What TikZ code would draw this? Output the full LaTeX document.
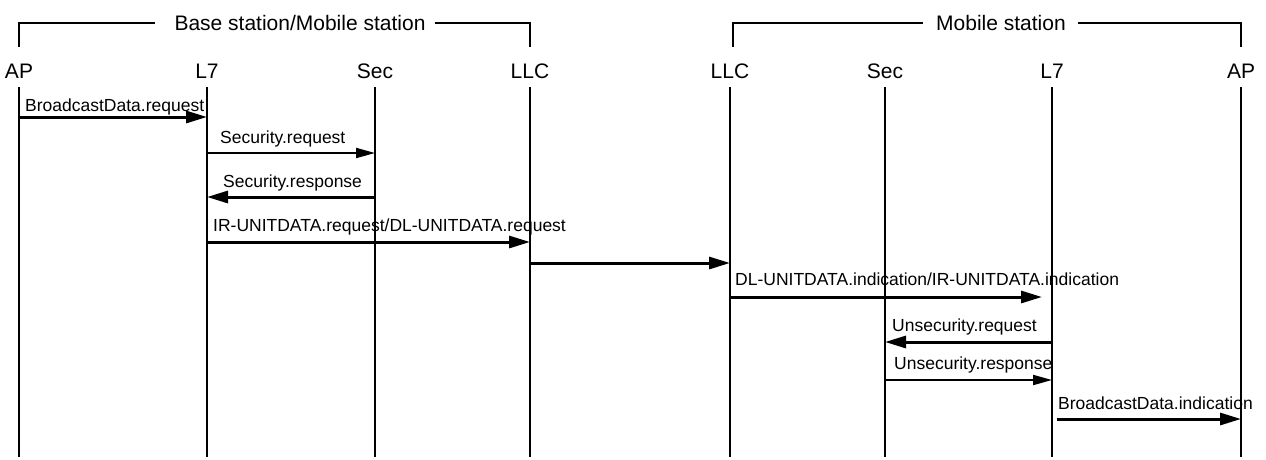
\documentclass[tikz,border=0pt]{standalone}
\usepackage{fontspec}
\setmainfont{Liberation Sans}
\usetikzlibrary{arrows.meta}
\tikzset{
	layer/.style={inner sep=0pt,anchor=base,font=\fontsize{21}{25}\selectfont},
	msglbl/.style={inner sep=0pt,anchor=base west,font=\fontsize{17.5}{21}\selectfont},
	lifeline/.style={line width=1.2pt},
	bracket/.style={line width=1.2pt},
	msg/.style={line width=3pt,-{Triangle[length=21pt,width=12pt]}},
	thinmsg/.style={line width=2pt,-{Triangle[length=19pt,width=10pt]}},
}
\begin{document}
\begin{tikzpicture}[x=1pt,y=-1pt]
	\useasboundingbox (0,0) rectangle (1266,459);
	% layers of both stations
	\node[layer] (apA) at (19,78.5) {AP};
	\node[layer] (lsA) at (207,78.5) {L7};
	\node[layer] (secA) at (375,78.5) {Sec};
	\node[layer] (llcA) at (530,78.5) {LLC};
	\node[layer] (llcB) at (730,78.5) {LLC};
	\node[layer] (secB) at (885,78.5) {Sec};
	\node[layer] (lsB) at (1052,78.5) {L7};
	\node[layer] (apB) at (1241,78.5) {AP};
	\foreach \n in {apA,lsA,secA,llcA,llcB,secB,lsB,apB}
		\draw[lifeline] (\n |- 0,87) -- (\n |- 0,457);
	% brackets
	\node[layer] (hdrA) at (300,30) {Base station/Mobile station};
	\node[layer] (hdrB) at (1001,30) {Mobile station};
	\draw[bracket] (apA |- 0,47) |- ([xshift=-19pt]hdrA.west |- 0,23);
	\draw[bracket] ([xshift=9pt]hdrA.east |- 0,23) -| (llcA |- 0,47);
	\draw[bracket] ([xshift=3pt]llcB |- 0,47) |- ([xshift=-13pt]hdrB.west |- 0,23);
	\draw[bracket] ([xshift=12pt]hdrB.east |- 0,23) -| (apB |- 0,47);
	% messages
	\draw[msg] (apA |- 0,117) -- (lsA |- 0,117);
	\node[msglbl] (m1) at (25,111) {BroadcastData.request};
	\draw[thinmsg] (lsA |- 0,153) -- (secA |- 0,153);
	\node[msglbl] (m2) at (220,143) {Security.request};
	\draw[msg] (secA |- 0,197) -- (lsA |- 0,197);
	\node[msglbl] (m3) at (223,187) {Security.response};
	\draw[msg] (lsA |- 0,242) -- (llcA |- 0,242);
	\node[msglbl] (m4) at (213,231) {IR-UNITDATA.request/DL-UNITDATA.request};
	\draw[msg] (llcA |- 0,263) -- (llcB |- 0,263);
	\draw[msg] (llcB |- 0,297) -- ([xshift=-10pt]lsB |- 0,297);
	\node[msglbl] (m6) at (735,285) {DL-UNITDATA.indication/IR-UNITDATA.indication};
	\draw[msg] (lsB |- 0,342) -- (secB |- 0,342);
	\node[msglbl] (m7) at (892,331) {Unsecurity.request};
	\draw[thinmsg] (secB |- 0,380) -- (lsB |- 0,380);
	\node[msglbl] (m8) at (894,369) {Unsecurity.response};
	\draw[msg] ([xshift=5pt]lsB |- 0,419) -- (apB |- 0,419);
	\node[msglbl] (m9) at (1058,409) {BroadcastData.indication};
\end{tikzpicture}
\end{document}
